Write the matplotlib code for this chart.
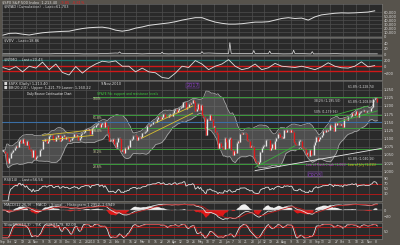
import numpy as np
import pandas as pd
import matplotlib
matplotlib.use("Agg")
import matplotlib.pyplot as plt

# daily closes of $SPX, 28-Sep-2009 .. 9-Nov-2010
closes = [
    1063.0, 1060.6, 1057.1,
    1029.9, 1025.2, 1040.5, 1054.7, 1057.6, 1065.5, 1071.5, 1076.2, 1073.2, 1092.0, 1096.6,
    1087.7, 1097.9, 1091.1, 1081.4, 1092.9, 1079.6, 1067.0, 1063.4, 1042.6, 1066.1, 1036.2,
    1042.9, 1045.4, 1046.5, 1066.6, 1069.3, 1093.1, 1093.0, 1098.5, 1087.2, 1093.5, 1109.3,
    1110.3, 1109.8, 1094.9, 1091.4, 1106.2, 1105.7, 1110.6, 1091.5, 1095.6,
    1108.9, 1109.2, 1099.9, 1106.0, 1103.3, 1091.9, 1096.0, 1102.4, 1106.4, 1114.1, 1107.9,
    1109.2, 1096.1, 1102.5, 1114.1, 1118.0, 1120.6, 1126.5, 1127.8, 1126.2, 1126.4, 1115.1,
    1133.0, 1136.5, 1137.1, 1141.7, 1145.0, 1147.0, 1136.2, 1145.7, 1148.5, 1136.0, 1150.2,
    1138.0, 1116.5, 1091.8, 1096.8, 1092.2, 1097.5, 1084.5, 1073.9,
    1089.2, 1103.3, 1097.3, 1063.1, 1066.2, 1056.7, 1070.5, 1068.1, 1078.5, 1075.5, 1094.9,
    1099.5, 1106.8, 1109.2, 1108.0, 1094.6, 1105.2, 1102.9, 1104.5,
    1115.7, 1118.3, 1118.8, 1123.0, 1138.7, 1138.5, 1140.5, 1145.6, 1150.2, 1150.0, 1150.5,
    1159.5, 1166.2, 1165.8, 1159.9, 1165.8, 1174.2, 1167.7, 1165.7, 1166.6, 1173.2, 1173.3,
    1169.4,
    1178.1, 1187.4, 1189.4, 1182.5, 1186.4, 1194.4, 1196.5, 1197.3, 1210.7, 1211.7, 1192.1,
    1197.5, 1207.2, 1205.9, 1208.7, 1217.3, 1212.1, 1183.7, 1191.4, 1206.8, 1186.7,
    1202.3, 1173.6, 1165.9, 1128.2, 1110.9, 1159.7, 1155.8, 1171.7, 1157.4, 1135.7, 1136.9,
    1120.8, 1115.1, 1071.6, 1087.7, 1073.7, 1074.0, 1068.0, 1103.1, 1089.4,
    1070.7, 1098.4, 1102.8, 1064.9, 1050.5, 1062.0, 1055.7, 1086.8, 1091.6, 1089.6, 1115.2,
    1114.6, 1116.0, 1117.5, 1113.2, 1095.3, 1092.0, 1073.7, 1076.8, 1074.6, 1041.2, 1030.7,
    1027.4, 1022.6, 1028.1, 1060.3, 1070.3, 1078.0, 1078.8, 1095.3, 1095.2, 1096.5, 1064.9,
    1071.3, 1083.5, 1069.6, 1093.7, 1102.7, 1115.0, 1113.8, 1106.1, 1101.5, 1101.6,
    1125.9, 1120.5, 1127.2, 1125.8, 1121.6, 1127.8, 1121.1, 1089.5, 1083.6, 1079.3, 1079.4,
    1092.5, 1094.2, 1075.6, 1071.7, 1067.4, 1051.9, 1055.3, 1047.2, 1064.6, 1048.9, 1049.3,
    1080.3, 1090.1, 1104.5, 1091.8, 1098.9, 1104.2, 1109.6, 1121.9, 1121.1, 1125.1, 1124.7,
    1125.6, 1142.7, 1139.8, 1134.3, 1124.8, 1148.7, 1142.2, 1147.7, 1144.7, 1141.2,
    1146.2, 1137.0, 1160.8, 1160.0, 1158.1, 1165.2, 1165.3, 1169.8, 1178.1, 1173.8, 1176.2,
    1184.7, 1165.9, 1178.2, 1180.3, 1183.1, 1185.6, 1185.6, 1182.5, 1183.8, 1183.3,
    1184.4, 1193.6, 1198.0, 1221.1, 1225.9, 1223.3, 1213.4,
]
holidays = ["2009-11-26", "2009-12-25", "2010-01-01", "2010-01-18", "2010-02-15",
            "2010-04-02", "2010-05-31", "2010-07-05", "2010-09-06"]

# top indicator panels, one value per week (every 5th bar)
ad_line = [2.5, 7, 7.5, 5, 3, 6, 8.5, 10, 11, 12, 12.5, 16, 19, 21, 22, 22.5, 20, 15, 12.5,
           15, 20, 23, 27, 29, 31, 33, 36, 40, 43, 46, 46, 40, 35, 32, 30, 30, 31, 33, 35, 35,
           36, 40, 44, 46, 44, 45, 40, 48, 53, 55, 57, 58, 57.5, 58, 59, 60, 63]
spike_base = [2, 2, 2, 2, 2, 2, 2, 2, 3, 3, 3, 3, 2, 2, 2, 3, 4, 5, 4, 3, 3, 2, 3, 3, 3, 2,
              3, 4, 4, 3, 4, 5, 4, 4, 3, 4, 3, 3, 3, 4, 3, 3, 2, 2, 3, 3, 2, 2, 2, 2, 3, 2,
              2, 2, 2, 2, 2]
spike_days = [88, 120, 150, 171, 189, 201, 219, 233]
spike_vals = [9, 8, 10, 42, 14, 12, 15, 10]
mcclellan = [-20, -90, 10, -160, 20, -40, 150, -90, 90, -180, -260, 10, -200, -30, 90, 180,
             150, 190, 20, 20, -160, -40, -160, -190, -340, -370, -200, 20, -20, 200, 90,
             -90, 20, 90, 230, 20, -90, -40, 90, -90, -30, 110, 20, 0, -20, 20, -30, -90,
             0, 130, 20, -30, -40, 20, 160, 0, 40]

price_ticks = [1250, 1225, 1200, 1175, 1150, 1125, 1100, 1075, 1050, 1025, 1000]
fib_levels = [1228.7, 1171.0, 1133.0, 1067.0, 1021.0]
fib_names = ["100%", "61.8%", "50.0%", "38.2%", "23.6%"]

BG = "#57534c"
PANEL = "#2a2a2a"
GRID = "#4e4e4e"
TXT = "#d8d8d8"

dates = pd.bdate_range("2009-09-28", "2010-11-09")
dates = dates[~dates.isin(pd.to_datetime(holidays))]
c = np.array(closes)
n = len(c)
dates = dates[:n]
x = np.arange(n)
prev = np.r_[c[0], c[:-1]]

# indicators from the closes
s = pd.Series(c)
mid = s.rolling(20, min_periods=1).mean()
sd = s.rolling(20, min_periods=1).std().fillna(0)
upper = mid + 2 * sd
lower = mid - 2 * sd
d = s.diff().fillna(0)
up = d.clip(lower=0).ewm(alpha=1 / 14, adjust=False).mean()
dn = (-d.clip(upper=0)).ewm(alpha=1 / 14, adjust=False).mean()
rsi = 100 - 100 / (1 + up / dn.replace(0, 1e-9))
macd = s.ewm(span=12, adjust=False).mean() - s.ewm(span=26, adjust=False).mean()
signal = macd.ewm(span=9, adjust=False).mean()
hist = macd - signal
hh = s.rolling(14, min_periods=1).max()
ll = s.rolling(14, min_periods=1).min()
stk = (100 * (s - ll) / (hh - ll).replace(0, 1)).rolling(3, min_periods=1).mean()
std_ = stk.rolling(3, min_periods=1).mean()

# week markers: Mondays (or first day of the week)
wk = [i for i in range(n) if i == 0 or dates[i].weekday() < dates[i - 1].weekday()]
grid_x = wk[1::2]

fig = plt.figure(figsize=(4.0, 2.45), dpi=100, facecolor=BG)
W, H = 400.0, 245.0
fs = 2.6
fsm = 2.2


def panel(y0, y1):
    ax = fig.add_axes([2 / W, 1 - y1 / H, 380 / W, (y1 - y0) / H])
    ax.set_facecolor(PANEL)
    ax.set_xlim(-0.5, 285.5)
    for sp in ax.spines.values():
        sp.set_color("#777777")
        sp.set_linewidth(0.4)
    ax.tick_params(length=0, labelsize=fs, colors=TXT, pad=1.5)
    ax.yaxis.tick_right()
    ax.set_xticks([])
    for g in grid_x:
        ax.axvline(g, color=GRID, lw=0.5, zorder=0)
    return ax


# panel 1 - cumulative line
ax1 = panel(4, 37)
ax1.plot(x[::5][:len(ad_line)], np.array(ad_line) * 1000, color="#e0e0e0", lw=0.7)
ax1.set_ylim(-2000, 80000)
ax1.set_yticks([0, 10000, 20000, 30000, 40000, 50000, 60000])
ax1.set_yticklabels(["0", "10,000", "20,000", "30,000", "40,000", "50,000", "60,000"])
ax1.yaxis.grid(True, color=GRID, lw=0.5)
ax1.set_axisbelow(True)
ax1.text(0.005, 0.97, "$NYAD (Cumulative)  - Last=61,703", transform=ax1.transAxes,
         fontsize=fs, color=TXT, va="top")

# panel 2 - spiky series
ax2 = panel(38, 55)
sp2 = np.interp(x, x[::5][:len(spike_base)], spike_base)
for dd, vv in zip(spike_days, spike_vals):
    sp2[dd] = vv
ax2.plot(x, sp2, color="#e0e0e0", lw=0.5)
ax2.set_ylim(-2, 58)
ax2.set_yticks([0, 20, 40])
ax2.yaxis.grid(True, color=GRID, lw=0.5)
ax2.set_axisbelow(True)
ax2.text(0.005, 0.95, "$VXV  - Last=18.86", transform=ax2.transAxes,
         fontsize=fs, color=TXT, va="top")

# panel 3 - oscillator
ax3 = panel(56.5, 80)
ax3.axhline(220, color="#1f6f6a", lw=0.9)
ax3.axhline(40, color="#d01818", lw=1.0)
ax3.axhline(-130, color="#d01818", lw=1.0)
ax3.plot(x[::5][:len(mcclellan)], mcclellan, color="#e0e0e0", lw=0.6)
ax3.set_ylim(-420, 330)
ax3.set_yticks([-200, 0, 200])
ax3.text(0.005, 0.97, "$NYMO  - Last=20.43", transform=ax3.transAxes,
         fontsize=fs, color=TXT, va="top")

# main price panel
ax = panel(81.5, 175.5)
ax.set_ylim(987, 1275)
ax.set_yticks(price_ticks)
ax.set_yticklabels([f"{t:,}" for t in price_ticks])
ax.yaxis.grid(True, color=GRID, lw=0.5)
ax.set_axisbelow(True)
ax.fill_between(x, lower, upper, color="#8a8a8a", alpha=0.38, lw=0, zorder=1)
ax.plot(x, upper, color="#b0b0b0", lw=0.5, zorder=2)
ax.plot(x, lower, color="#b0b0b0", lw=0.5, zorder=2)
ax.axhline(1150, color="#3a6ea5", lw=0.8, zorder=2)
for lv in fib_levels:
    ax.axhline(lv, xmin=0.24, color="#3c9a3c", lw=0.7, zorder=2)
for lv, nm in zip(fib_levels, fib_names):
    ax.text(68, lv - 2, nm, fontsize=fsm, color="#d0d0a0", va="top")
body_lo = np.minimum(c, prev)
body_hi = np.maximum(c, prev)
body_hi = np.where(body_hi - body_lo < 2, body_lo + 2, body_hi)
cols = np.where(c >= prev, "#e6e6e6", "#e01818")
ax.vlines(x, body_lo - 3, body_hi + 3, colors="#9a9a9a", lw=0.3, zorder=3)
ax.vlines(x, body_lo, body_hi, colors=cols, lw=0.95, zorder=4)
# trend lines
ax.plot([30, 68], [1094, 1110], color="#d8c030", lw=0.6, zorder=5)
ax.plot([30, 68], [1110, 1127], color="#d8c030", lw=0.6, zorder=5)
ax.plot([105, 143], [1102, 1178], color="#d8c030", lw=0.6, zorder=5)
ax.plot([115, 143], [1148, 1200], color="#d8c030", lw=0.6, zorder=5)
ax.plot([190, 220], [1012, 1078], color="#3cae3c", lw=0.6, zorder=5)
ax.plot([190, 285], [1002, 1070], color="#e8e8e8", lw=0.6, zorder=5)
ax.plot([252, 282], [1150, 1185], color="#3cae3c", lw=0.6, zorder=5)
ax.plot([248, 275], [1170, 1200], color="#3cae3c", lw=0.6, zorder=5)
ax.text(0.005, 0.99, "\u25a0 $SPX (Daily) 1,213.40", transform=ax.transAxes,
        fontsize=fs, color=TXT, va="top")
ax.text(0.26, 0.99, "9-Nov-2010", transform=ax.transAxes, fontsize=fs, color=TXT, va="top")
ax.text(0.005, 0.955, "\u25a0 BB(20,2.0) - Upper: 1,221.79 Lower: 1,160.22",
        transform=ax.transAxes, fontsize=fs, color=TXT, va="top")
ax.text(0.065, 0.885, "Daily Bounce Continuation Chart", transform=ax.transAxes,
        fontsize=2.0, color="#f0f0f0", va="top")
ax.text(0.25, 0.885, "SP&FE Fib: support and resistance levels", transform=ax.transAxes,
        fontsize=fsm, color="#3cd23c", va="top")
ax.text(0.485, 0.985, "2017", transform=ax.transAxes, fontsize=3.6, color="#8a40c0",
        va="top", bbox=dict(fc="none", ec="#8a40c0", lw=0.3, pad=0.3))
ax.text(0.805, 0.03, "Q2Q3", transform=ax.transAxes, fontsize=3.6, color="#8a40c0",
        va="top", bbox=dict(fc="none", ec="#8a40c0", lw=0.3, pad=0.3))
ax.text(0.91, 0.93, "61.8% (1,228.74)", transform=ax.transAxes, fontsize=fsm, color=TXT)
ax.text(0.82, 0.78, "38.2% (1,195.50)", transform=ax.transAxes, fontsize=fsm, color=TXT)
ax.text(0.91, 0.77, "61.8% (1,208.86)", transform=ax.transAxes, fontsize=fsm, color=TXT)
ax.text(0.82, 0.67, "50% (1,179.96)", transform=ax.transAxes, fontsize=fsm, color=TXT)
ax.text(0.91, 0.165, "61.8% (1,040.16)", transform=ax.transAxes, fontsize=fsm, color=TXT)
ax.text(0.80, 0.105, "Low of Flash Crash (1,065)", transform=ax.transAxes, fontsize=fsm,
        color="#d040d0")
ax.text(0.91, 0.105, "Low of July (1,011)", transform=ax.transAxes, fontsize=fsm,
        color="#e0c020")

# RSI
axr = panel(176.5, 201)
axr.axhline(70, color="#c01818", lw=0.6)
axr.axhline(30, color="#c01818", lw=0.6)
axr.plot(x, rsi, color="#e0e0e0", lw=0.6)
axr.set_ylim(0, 100)
axr.set_yticks([30, 50, 70, 90])
axr.text(0.005, 0.95, "RSI(14)  - Last=56.56", transform=axr.transAxes, fontsize=fs,
         color=TXT, va="top")

# MACD
axm = panel(202.5, 221)
axm.fill_between(x, 0, hist * 2, where=hist >= 0, color="#f0f0f0", lw=0)
axm.fill_between(x, 0, hist * 2, where=hist < 0, color="#e01818", lw=0)
axm.plot(x, macd, color="#e0e0e0", lw=0.6)
axm.plot(x, signal, color="#c01818", lw=0.6)
axm.axhline(0, color="#888888", lw=0.3)
axm.set_ylim(-32, 22)
axm.set_yticks([-20, 0])
axm.text(0.005, 0.95, "MACD(12,26,9)  - MACD  - Signal  - Histogram 1.2952, 1.6949",
         transform=axm.transAxes, fontsize=fs, color=TXT, va="top")

# stochastic
axs = panel(222.5, 238.5)
axs.axhline(80, color="#c01818", lw=0.6)
axs.axhline(20, color="#c01818", lw=0.6)
axs.plot(x, stk, color="#e0e0e0", lw=0.6)
axs.plot(x, std_, color="#c01818", lw=0.5)
axs.set_ylim(-5, 115)
axs.set_yticks([50])
axs.text(0.005, 0.95, "SlowSTO(14,3)  - %K  - %D 84.79, 82.09", transform=axs.transAxes,
         fontsize=fs, color=TXT, va="top")
labels = []
for j, i in enumerate(wk):
    dt = dates[i]
    if j == 0 or dt.month != dates[wk[j - 1]].month:
        labels.append("2010" if (dt.month == 1 and dt.year == 2010) else dt.strftime("%b"))
    else:
        labels.append(str(dt.day))
axs.set_xticks(wk)
axs.set_xticklabels(labels)
axs.tick_params(axis="x", labelsize=2.2, colors=TXT, pad=1)

fig.text(0.005, 1 - 2.5 / H, "$SPX S&P 500 Index  1,213.40", fontsize=fs, color=TXT,
         va="center")
fig.text(0.15, 1 - 2.5 / H, "-9.85  -0.81%", fontsize=fs, color="#e02020", va="center")

fig.savefig("out.png", dpi=100, facecolor=BG)
